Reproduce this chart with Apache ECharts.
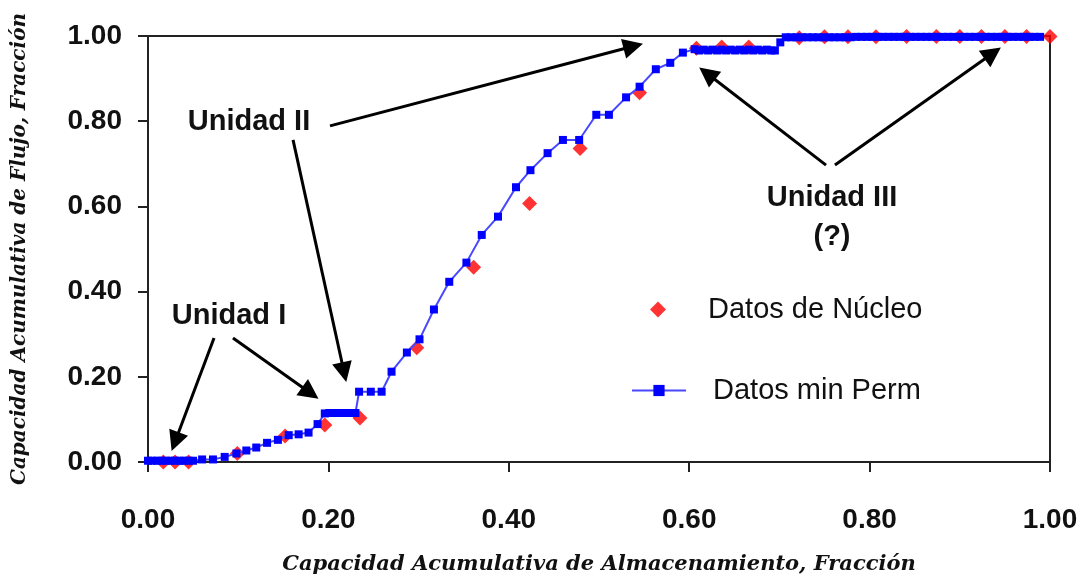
<!DOCTYPE html>
<html>
<head>
<meta charset="utf-8">
<script src="https://cdn.jsdelivr.net/npm/echarts@6/dist/echarts.min.js"></script>
<style>html,body{margin:0;padding:0;background:#fff}#c{width:1091px;height:579px}</style>
</head>
<body>
<div id="c"></div>
<script>
const xTicks = [0, 0.2, 0.4, 0.6, 0.8, 1.0];
const yTicks = [0, 0.2, 0.4, 0.6, 0.8, 1.0];

const coreX = [0.017,0.030,0.045,0.099,0.152,0.196,0.235,0.298,0.361,0.423,0.479,0.545,0.608,0.636,0.666,0.722,0.750,0.776,0.807,0.841,0.874,0.900,0.924,0.950,0.974,1.000];
const coreY = [0.000,0.000,0.000,0.020,0.061,0.087,0.103,0.268,0.457,0.607,0.736,0.867,0.971,0.974,0.974,0.996,0.998,0.998,0.998,0.999,0.999,0.999,0.999,0.999,0.999,0.999];

const permX = [0.000,0.005,0.010,0.015,0.020,0.025,0.030,0.035,0.040,0.045,0.050,0.060,0.072,0.085,0.098,0.109,0.120,0.132,0.144,0.156,0.167,0.178,0.188,0.196,0.201,0.206,0.211,0.216,0.221,0.226,0.230,0.234,0.247,0.259,0.270,0.287,0.301,0.317,0.334,0.353,0.370,0.388,0.408,0.424,0.443,0.460,0.478,0.497,0.511,0.530,0.545,0.563,0.579,0.593,0.606,0.611,0.616,0.621,0.626,0.631,0.636,0.641,0.646,0.651,0.656,0.661,0.666,0.671,0.676,0.681,0.686,0.691,0.695,0.701,0.707,0.713,0.719,0.725,0.731,0.737,0.743,0.749,0.755,0.761,0.767,0.773,0.779,0.785,0.791,0.797,0.803,0.809,0.815,0.821,0.827,0.833,0.839,0.845,0.851,0.857,0.863,0.869,0.875,0.881,0.887,0.893,0.899,0.905,0.911,0.917,0.923,0.929,0.935,0.941,0.947,0.953,0.959,0.965,0.971,0.977,0.983,0.989,0.995,1.000];
const permY = [0.003,0.003,0.003,0.003,0.003,0.003,0.003,0.003,0.003,0.003,0.003,0.006,0.006,0.012,0.020,0.027,0.034,0.045,0.052,0.063,0.065,0.069,0.089,0.114,0.115,0.115,0.115,0.115,0.115,0.115,0.115,0.165,0.165,0.165,0.212,0.257,0.288,0.358,0.423,0.468,0.533,0.576,0.645,0.685,0.725,0.756,0.756,0.815,0.815,0.856,0.881,0.922,0.937,0.961,0.969,0.966,0.968,0.966,0.968,0.966,0.968,0.966,0.968,0.966,0.968,0.966,0.968,0.966,0.968,0.966,0.968,0.966,0.966,0.985,0.997,0.997,0.997,0.997,0.997,0.997,0.997,0.997,0.997,0.997,0.997,0.997,0.997,0.998,0.998,0.998,0.998,0.998,0.998,0.998,0.998,0.998,0.998,0.998,0.998,0.998,0.998,0.998,0.998,0.998,0.998,0.998,0.998,0.998,0.998,0.998,0.998,0.998,0.998,0.998,0.998,0.998,0.998,0.998,0.998,0.998,0.998,0.998];

const seriesNames = ['Datos de Núcleo', 'Datos min Perm'];

// annotation arrows: [startX, startY, endX, endY] in data units
const arrows = [
  [0.0732, 0.291, 0.0301, 0.048],
  [0.0942, 0.291, 0.180, 0.162],
  [0.2018, 0.789, 0.538, 0.976],
  [0.1608, 0.756, 0.2174, 0.2108],
  [0.7517, 0.697, 0.6199, 0.912],
  [0.7616, 0.697, 0.9365, 0.9596]
];

const chart = echarts.init(document.getElementById('c'), null, {renderer: 'canvas'});
const pair = (xs, ys) => xs.map((x, i) => [x, ys[i]]);
const fmt = v => v.toFixed(2);
const sans = '"Liberation Sans", Arial, sans-serif';
const annFont = 'bold 29px "Liberation Sans", Arial, sans-serif';
const titleStyle = {fontFamily: '"DejaVu Serif", serif', fontStyle: 'italic', fontWeight: 'bold', fontSize: 21, color: '#111'};
const yTitleStyle = Object.assign({}, titleStyle, {fontSize: 20});
const legendText = {fontFamily: sans, fontSize: 29, color: '#111'};

chart.setOption({
  animation: false,
  backgroundColor: '#fff',
  grid: {left: 148, right: 41, top: 36, bottom: 117, containLabel: false, outerBoundsMode: 'none',
         show: true, borderColor: '#222', borderWidth: 2, backgroundColor: 'transparent'},
  xAxis: {
    type: 'value', min: 0, max: 1, interval: 0.2,
    name: 'Capacidad Acumulativa de Almacenamiento, Fracción',
    nameLocation: 'middle', nameGap: 92, nameTextStyle: titleStyle,
    axisLine: {lineStyle: {color: '#222', width: 2}},
    axisTick: {show: true, inside: false, length: 10, lineStyle: {color: '#222', width: 2}},
    axisLabel: {formatter: fmt, fontFamily: sans, fontWeight: 'bold', fontSize: 28, color: '#111', margin: 44},
    splitLine: {show: false}
  },
  yAxis: {
    type: 'value', min: 0, max: 1, interval: 0.2,
    name: 'Capacidad Acumulativa de Flujo, Fracción',
    nameLocation: 'middle', nameGap: 118, nameTextStyle: yTitleStyle,
    axisLine: {lineStyle: {color: '#222', width: 2}},
    axisTick: {show: true, inside: false, length: 10, lineStyle: {color: '#222', width: 2}},
    axisLabel: {formatter: fmt, fontFamily: sans, fontWeight: 'bold', fontSize: 28, color: '#111', margin: 26},
    splitLine: {show: false}
  },
  legend: [
    {
      data: [seriesNames[0]], orient: 'vertical', left: 645, top: 290,
      itemWidth: 16, itemHeight: 16, textStyle: Object.assign({padding: [0, 0, 0, 37]}, legendText)
    },
    {
      data: [seriesNames[1]], orient: 'vertical', left: 626, top: 371,
      itemWidth: 54, itemHeight: 14, textStyle: Object.assign({padding: [0, 0, 0, 22]}, legendText)
    }
  ],
  series: [
    {
      name: seriesNames[0], type: 'scatter', symbol: 'diamond', symbolSize: 15, clip: false,
      itemStyle: {color: '#ff0000'}, z: 2,
      data: pair(coreX, coreY)
    },
    {
      name: seriesNames[1], type: 'line', symbol: 'rect', symbolSize: 8, clip: false,
      lineStyle: {color: '#4848ff', width: 2}, itemStyle: {color: '#0000ff'}, z: 3,
      data: pair(permX, permY)
    },
    {
      name: 'arrows', type: 'line', data: [], z: 4,
      markLine: {
        silent: true, symbol: ['none', 'triangle'], symbolSize: 20,
        label: {show: false},
        lineStyle: {color: '#000', width: 3, type: 'solid'},
        data: arrows.map(a => [{coord: [a[0], a[1]]}, {coord: [a[2], a[3]]}])
      }
    }
  ],
  graphic: [
    {type: 'text', x: 229, y: 316, style: {text: 'Unidad I', font: annFont, fill: '#111', align: 'center', verticalAlign: 'middle'}},
    {type: 'text', x: 249, y: 122, style: {text: 'Unidad II', font: annFont, fill: '#111', align: 'center', verticalAlign: 'middle'}},
    {type: 'text', x: 832, y: 198, style: {text: 'Unidad III', font: annFont, fill: '#111', align: 'center', verticalAlign: 'middle'}},
    {type: 'text', x: 832, y: 237, style: {text: '(?)', font: annFont, fill: '#111', align: 'center', verticalAlign: 'middle'}}
  ]
});
</script>
</body>
</html>
